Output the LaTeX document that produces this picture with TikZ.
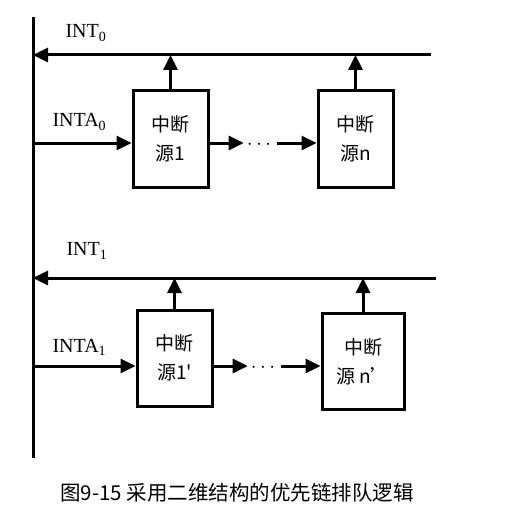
\documentclass[tikz,border=0pt]{standalone}
\usepackage{fontspec}
\setmainfont{Liberation Serif}
\newfontfamily\cjk{Noto Sans CJK SC}
\usetikzlibrary{positioning,arrows.meta,calc}
\tikzset{
  bus/.style={line width=3pt},
  src/.style={rectangle,draw,line width=3pt,minimum width=75pt,minimum height=96pt,
    align=center,inner sep=2pt,font=\cjk\fontsize{19}{29}\selectfont},
  ar/.style={-{Triangle[length=15pt,width=14pt]},line width=3pt},
  sig/.style={font=\fontsize{20}{22}\selectfont,anchor=west},
  dotsn/.style={font=\bfseries\fontsize{20}{22}\selectfont,inner sep=1pt},
}
\begin{document}
\begin{tikzpicture}[x=1pt,y=-1pt]
  \useasboundingbox (0,0) rectangle (505,524);
  % bus and INT lines
  \coordinate (bustop) at (33,17);
  \coordinate (busbot) at (33,458);
  \draw[bus] (bustop) -- (busbot);
  \coordinate (int0l) at (33,55);
  \coordinate (int0r) at (431,55);
  \coordinate (int1l) at (33,278);
  \coordinate (int1r) at (436,278);
  \coordinate (inta0) at (33,143);
  \coordinate (inta1) at (33,366);
  \node[sig] (lint0) at (62,33) {INT\textsubscript{0}};
  \node[sig] (linta0) at (49,122) {INTA\textsubscript{0}};
  \node[sig] (lint1) at (63,251) {INT\textsubscript{1}};
  \node[sig] (linta1) at (49,347) {INTA\textsubscript{1}};
  % interrupt sources
  \node[src] (s1) at (170.5,139) {中断\\源1};
  \node[src] (sn) at (355.5,139) {中断\\源n};
  \node[src] (t1) at (174.5,358) {中断\\源1'};
  \node[src,minimum width=82pt] (tn) at (363,361.5) {中断\\源 n’};
  \node[dotsn] (d0) at (259,145) {$\cdots$};
  \node[dotsn] (d1) at (263,368) {$\cdots$};
  \draw[ar] (int0r) -- (int0l);
  \draw[ar] (int1r) -- (int1l);
  \draw[ar] (inta0) -- (inta0 -| s1.west);
  \draw[ar] (inta1) -- (inta1 -| t1.west);
  \foreach \a/\b in {s1/int0l,sn/int0l,t1/int1l,tn/int1l}
    \draw[ar] (\a.north) -- (\a.north |- \b);
  \foreach \a/\d/\b/\y in {s1/d0/sn/inta0,t1/d1/tn/inta1}{
    \draw[ar] (\a.east |- \y) -- ($(\d.west |- \y)+(-2,0)$);
    \draw[ar] ($(\d.east |- \y)+(5,0)$) -- (\b.west |- \y);
  }
  \node[font=\cjk\fontsize{20.5}{24}\selectfont] (cap) at (237,493) {图9-15 采用二维结构的优先链排队逻辑};
\end{tikzpicture}
\end{document}
